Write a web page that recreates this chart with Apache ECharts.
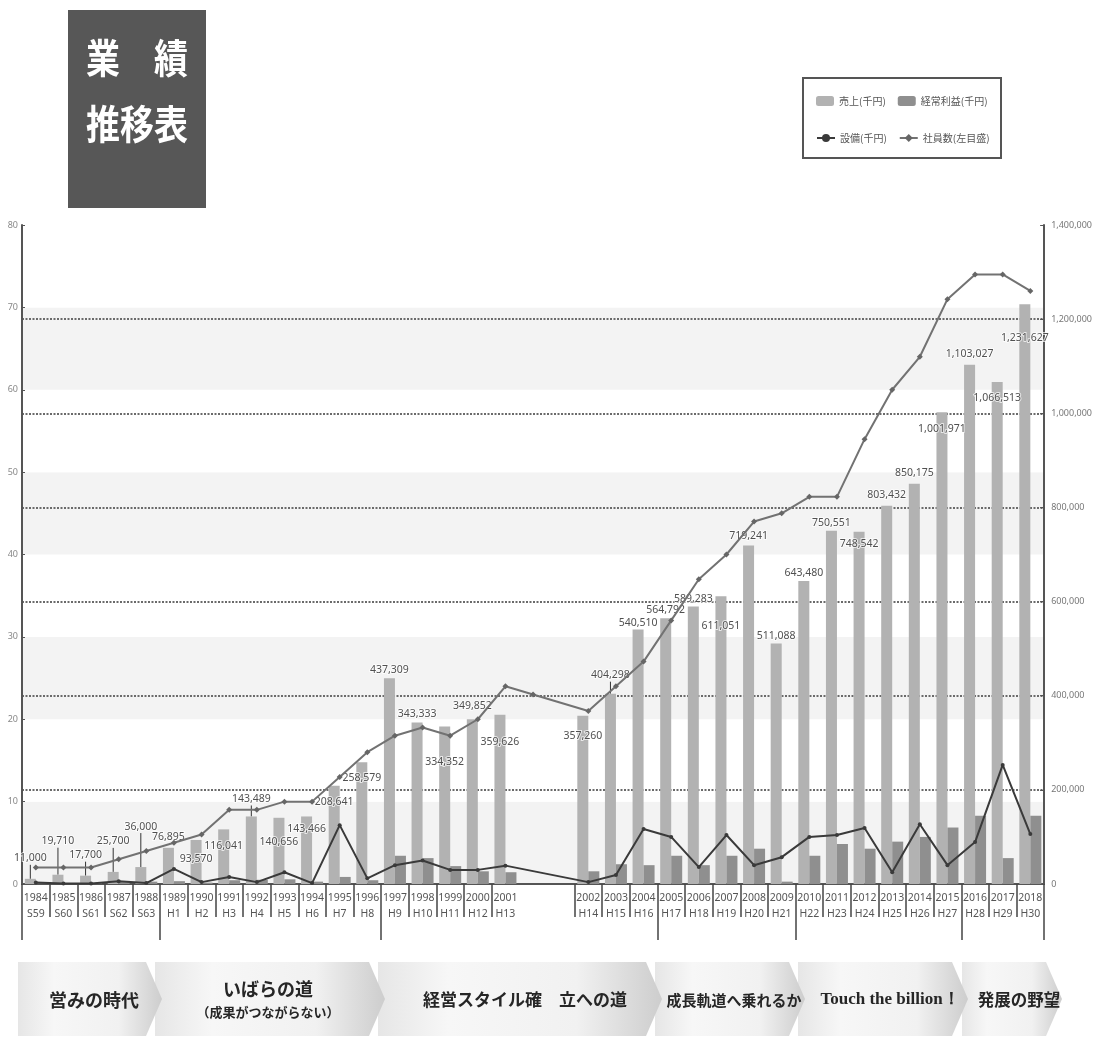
<!DOCTYPE html>
<html><head><meta charset="utf-8">
<script src="https://cdn.jsdelivr.net/npm/echarts@6/dist/echarts.min.js"></script>
<style>html,body{margin:0;padding:0;background:#fff}#c{width:1095px;height:1038px}</style>
</head><body><div id="c"></div>
<script>
// ---- data ----
const years = ['1984','1985','1986','1987','1988','1989','1990','1991','1992','1993','1994','1995','1996','1997','1998','1999','2000','2001',
  '2002','2003','2004','2005','2006','2007','2008','2009','2010','2011','2012','2013','2014','2015','2016','2017','2018'];
const wareki = ['S59','S60','S61','S62','S63','H1','H2','H3','H4','H5','H6','H7','H8','H9','H10','H11','H12','H13',
  'H14','H15','H16','H17','H18','H19','H20','H21','H22','H23','H24','H25','H26','H27','H28','H29','H30'];
const sales = [11000,19710,17700,25700,36000,76895,93570,116041,143489,140656,143466,208641,258579,437309,343333,334352,349852,359626,
  357260,404298,540510,564792,589283,611051,719241,511088,643480,750551,748542,803432,850175,1001971,1103027,1066513,1231627];
const profit = [1000,2000,2000,4000,5000,6000,3000,8000,9000,10000,5000,15000,8000,60000,55000,38000,27000,25000,
  27000,42000,40000,60000,40000,60000,75000,5000,60000,85000,75000,90000,100000,120000,145000,55000,145000];
const equipment = [3000,1000,1000,6000,2000,32000,4000,15000,4000,25000,2000,125000,12000,40000,50000,30000,30000,39000,
  4000,19000,117000,100000,36000,104000,40000,57000,100000,104000,119000,25000,127000,40000,89000,253000,106000];
const employees = [2,2,2,3,4,5,6,9,9,10,10,13,16,18,19,18,20,24,
  21,24,27,32,37,40,44,45,47,47,54,60,64,71,74,74,72];
const employeesGap = [23, null];   // value plotted inside the 2001-2002 gap
const leftAxis = {min: 0, max: 80, interval: 10};
const rightAxis = {min: 0, max: 1400000, interval: 200000};
const eras = [
  {lines: ['営みの時代']},
  {lines: ['いばらの道', '（成果がつながらない）']},
  {lines: ['経営スタイル確　立への道']},
  {lines: ['成長軌道へ乗れるか']},
  {lines: ['Touch the billion！']},
  {lines: ['発展の野望']}
];
const eraStartYears = ['1984','1989','1997','2005','2010','2016'];

// ---- layout / style (not data) ----
const GAP = 2; // empty category slots between 2001 and 2002
const splitAt = 18;
function withGap(arr, fill) { return arr.slice(0, splitAt).concat(fill, arr.slice(splitAt)); }
const cats = withGap(years, Array(GAP).fill(''));
const wa = withGap(wareki, Array(GAP).fill(''));
const salesD = withGap(sales, [null, null]);
const profitD = withGap(profit, [null, null]);
const equipD = withGap(equipment, [null, null]);
const emplD = withGap(employees, employeesGap);
// label vertical shift (px) for sales labels, by year
const labelShift = {'1984':-10,'1985':-23,'1986':-10,'1987':-20,'1988':-30,'1990':30,'1991':27,'1992':-7,'1993':35,'1994':23,
  '1995':27,'1996':26,'1997':2,'1998':2,'1999':46,'2000':-3,'2001':38,'2002':31,'2003':-8,'2004':4,'2005':2,'2006':3,'2007':40,
  '2008':1,'2009':3,'2010':2,'2011':3,'2012':23,'2015':27,'2017':27,'2018':44};
const eraIdx = eraStartYears.map(y => cats.indexOf(y));
const FONT = '"Liberation Sans Narrow","Noto Sans",sans-serif';
const JP = '"Noto Sans CJK JP","Noto Sans",sans-serif';

const salesItems = salesD.map((v, i) => {
  if (v == null) return null;
  const s = labelShift[cats[i]] || 0;
  return {value: v, labelLine: {show: s < -5}};
});

const chart = echarts.init(document.getElementById('c'));

// banner graphics
const segs = [[18,162],[155,385],[378,662],[655,805],[798,968],[962,1062]];
const textPos = [[94,[1000]],[268,[989,1012]],[525,[1000]],[734,[1000]],[890,[1000]],[1019,[1000]]];
const textSize = [[18],[18,13],[17],[15],[17],[16.5]];
const bTop = 962, bBot = 1036, bMid = 999, tip = 16;
const bannerEls = [];
for (let k = segs.length - 1; k >= 0; k--) {
  const [x0, x1] = segs[k];
  bannerEls.push({
    type: 'polygon', z: 1,
    shape: {points: [[x0,bTop],[x1-tip,bTop],[x1,bMid],[x1-tip,bBot],[x0,bBot]]},
    style: {fill: new echarts.graphic.LinearGradient(0,0,1,0,[
      {offset:0,color:'#e6e6e6'},{offset:0.25,color:'#f7f7f7'},{offset:0.7,color:'#f1f1f1'},{offset:1,color:'#cdcdcd'}])}
  });
}
eras.forEach((e, k) => {
  e.lines.forEach((t, j) => {
    const latin = /^[A-Za-z]/.test(t);
    bannerEls.push({
      type: 'text', z: 5, x: textPos[k][0], y: textPos[k][1][j],
      style: {text: t, fill: '#262626', font: 'bold ' + textSize[k][j] + 'px ' + (latin ? '"Liberation Serif","DejaVu Serif",serif' : JP),
        align: 'center', verticalAlign: 'middle'}
    });
  });
});

const option = {
  animation: false,
  backgroundColor: '#ffffff',
  grid: {left: 22, right: 45, top: 225, bottom: 154},
  legend: [
    {left: 811, top: 91, itemGap: 12, itemWidth: 18, itemHeight: 10, data: ['売上(千円)', '経常利益(千円)'],
      textStyle: {fontSize: 10, color: '#555', fontFamily: JP}, selectedMode: false},
    {left: 811, top: 128, itemGap: 12, itemWidth: 18, itemHeight: 10, data: ['設備(千円)', '社員数(左目盛)'],
      textStyle: {fontSize: 10, color: '#555', fontFamily: JP}, selectedMode: false}
  ],
  graphic: [
    {type: 'rect', z: 0, shape: {x: 803, y: 78, width: 198, height: 80}, style: {fill: '#fff', stroke: '#555', lineWidth: 2}},
    {type: 'rect', shape: {x: 68, y: 10, width: 138, height: 198}, style: {fill: '#575757'}},
    {type: 'text', x: 137, y: 58, scaleX: 0.85, style: {text: '業　績', fill: '#fff', font: 'bold 40px ' + JP, align: 'center', verticalAlign: 'middle'}},
    {type: 'text', x: 137, y: 124, scaleX: 0.85, style: {text: '推移表', fill: '#fff', font: 'bold 40px ' + JP, align: 'center', verticalAlign: 'middle'}}
  ].concat(bannerEls),
  xAxis: [
    {type: 'category', data: cats, position: 'bottom', offset: 0,
      axisLine: {lineStyle: {color: '#555', width: 2}},
      axisTick: {show: true, length: 33, interval: (i) => !(i >= splitAt && i < splitAt + GAP), lineStyle: {color: '#444', width: 1.5}},
      axisLabel: {interval: 0, margin: 6, fontSize: 10.5, lineHeight: 16, color: '#555', fontFamily: FONT,
        formatter: (v, i) => v ? v + '\n' + wa[i] : ''}},
    {type: 'category', data: cats, position: 'bottom', offset: 0,
      axisLine: {show: false}, axisLabel: {show: false},
      axisTick: {show: true, length: 56, interval: (i) => eraIdx.indexOf(i) >= 0, lineStyle: {color: '#444', width: 1.5}}}
  ],
  yAxis: [
    {type: 'value', position: 'left', min: leftAxis.min, max: leftAxis.max, interval: leftAxis.interval,
      axisLine: {show: true, lineStyle: {color: '#555', width: 2}},
      axisTick: {show: true, inside: true, length: 3, lineStyle: {color: '#555'}},
      axisLabel: {fontSize: 9, color: '#888', margin: 4, fontFamily: FONT},
      splitLine: {show: false},
      splitArea: {show: true, areaStyle: {color: ['#f3f3f3', '#ffffff']}}},
    {type: 'value', position: 'right', min: rightAxis.min, max: rightAxis.max, interval: rightAxis.interval,
      axisLine: {show: true, lineStyle: {color: '#555', width: 2}},
      axisTick: {show: true, inside: true, length: 4, lineStyle: {color: '#555'}},
      axisLabel: {fontSize: 9, color: '#777', margin: 7, fontFamily: FONT},
      splitLine: {show: true, showMaxLine: false, showMinLine: false, lineStyle: {color: '#6a6a6a', width: 2, type: [2, 1.5]}}}
  ],
  series: [
    {name: '売上(千円)', type: 'bar', xAxisIndex: 0, yAxisIndex: 1, data: salesItems, barWidth: 11, barGap: '0%',
      itemStyle: {color: '#b2b2b2'}, z: 2,
      label: {show: true, position: 'top', distance: 5, fontSize: 10.5, color: '#505050', fontFamily: FONT,
        textBorderColor: 'rgba(255,255,255,0.7)', textBorderWidth: 2,
        formatter: (p) => echarts.format.addCommas(p.value)},
      labelLine: {show: false, lineStyle: {color: '#333', width: 1}},
      labelLayout: (p) => ({dy: labelShift[cats[p.dataIndex]] || 0})},
    {name: '経常利益(千円)', type: 'bar', xAxisIndex: 0, yAxisIndex: 1, data: profitD, barWidth: 11,
      itemStyle: {color: '#8f8f8f'}, z: 2},
    {name: '設備(千円)', type: 'line', xAxisIndex: 0, yAxisIndex: 1, data: equipD, connectNulls: true,
      lineStyle: {color: '#3a3a3a', width: 2}, itemStyle: {color: '#3a3a3a'}, symbol: 'circle', symbolSize: 4, z: 4},
    {name: '社員数(左目盛)', type: 'line', xAxisIndex: 0, yAxisIndex: 0, data: emplD, connectNulls: true,
      lineStyle: {color: '#727272', width: 2}, itemStyle: {color: '#666'}, symbol: 'diamond', symbolSize: 6, z: 5}
  ]
};
chart.setOption(option);
</script>
</body></html>
